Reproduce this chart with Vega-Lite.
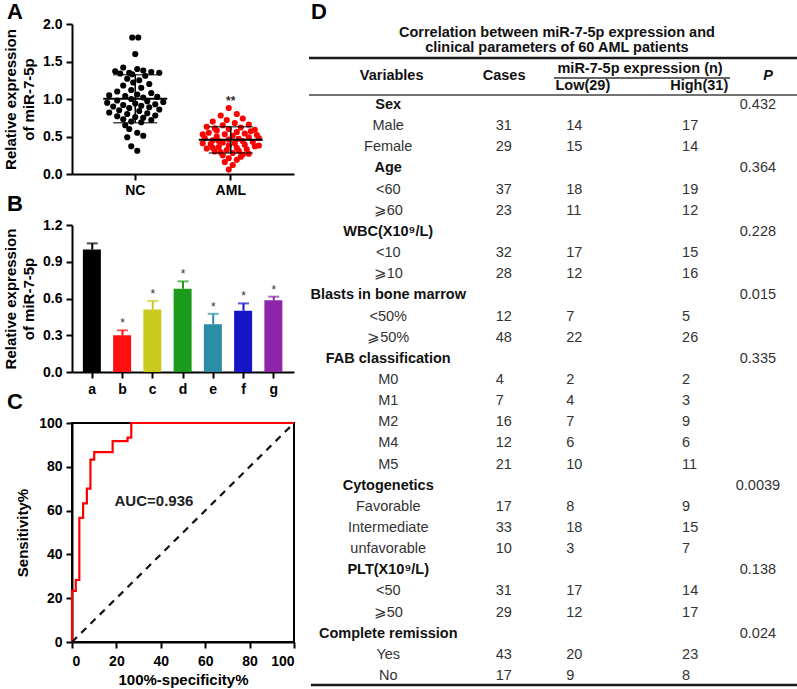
{
"$schema": "https://vega.github.io/schema/vega-lite/v6.json",
"padding": {"left": 3, "top": 0, "right": 0, "bottom": 0},
"datasets": {
"dots": [
{"group":"NC","value":1.82,"spread":-3},{"group":"NC","value":1.82,"spread":3},{"group":"NC","value":1.60,"spread":0},
{"group":"NC","value":1.42,"spread":-12},{"group":"NC","value":1.40,"spread":2},{"group":"NC","value":1.38,"spread":8},{"group":"NC","value":1.37,"spread":-20},{"group":"NC","value":1.36,"spread":16},{"group":"NC","value":1.35,"spread":-6},{"group":"NC","value":1.35,"spread":24},{"group":"NC","value":1.34,"spread":-15},{"group":"NC","value":1.33,"spread":-3},{"group":"NC","value":1.31,"spread":10},
{"group":"NC","value":1.27,"spread":-8},{"group":"NC","value":1.25,"spread":4},{"group":"NC","value":1.22,"spread":-2},{"group":"NC","value":1.20,"spread":14},{"group":"NC","value":1.18,"spread":-12},{"group":"NC","value":1.15,"spread":6},{"group":"NC","value":1.12,"spread":-4},
{"group":"NC","value":1.10,"spread":-18},{"group":"NC","value":1.08,"spread":16},{"group":"NC","value":1.06,"spread":2},{"group":"NC","value":1.05,"spread":-26},{"group":"NC","value":1.04,"spread":-10},{"group":"NC","value":1.03,"spread":22},{"group":"NC","value":1.02,"spread":8},{"group":"NC","value":1.00,"spread":-4},
{"group":"NC","value":0.98,"spread":-18},{"group":"NC","value":0.97,"spread":12},{"group":"NC","value":0.96,"spread":28},{"group":"NC","value":0.95,"spread":-28},{"group":"NC","value":0.94,"spread":0},{"group":"NC","value":0.93,"spread":20},{"group":"NC","value":0.92,"spread":-12},{"group":"NC","value":0.91,"spread":6},{"group":"NC","value":0.90,"spread":-22},{"group":"NC","value":0.89,"spread":14},{"group":"NC","value":0.88,"spread":-6},
{"group":"NC","value":0.86,"spread":24},{"group":"NC","value":0.85,"spread":-16},{"group":"NC","value":0.84,"spread":4},{"group":"NC","value":0.82,"spread":-26},{"group":"NC","value":0.81,"spread":12},{"group":"NC","value":0.80,"spread":-8},{"group":"NC","value":0.78,"spread":20},{"group":"NC","value":0.77,"spread":-18},{"group":"NC","value":0.76,"spread":0},{"group":"NC","value":0.75,"spread":8},{"group":"NC","value":0.73,"spread":-12},{"group":"NC","value":0.72,"spread":16},{"group":"NC","value":0.70,"spread":-4},{"group":"NC","value":0.69,"spread":6},
{"group":"NC","value":0.65,"spread":-10},{"group":"NC","value":0.60,"spread":-6},{"group":"NC","value":0.55,"spread":2},{"group":"NC","value":0.51,"spread":8},{"group":"NC","value":0.49,"spread":-8},{"group":"NC","value":0.37,"spread":-4},{"group":"NC","value":0.31,"spread":2},
{"group":"AML","value":0.88,"spread":-2},{"group":"AML","value":0.80,"spread":6},{"group":"AML","value":0.78,"spread":-10},{"group":"AML","value":0.74,"spread":12},{"group":"AML","value":0.72,"spread":-4},{"group":"AML","value":0.70,"spread":-18},{"group":"AML","value":0.68,"spread":4},{"group":"AML","value":0.66,"spread":18},{"group":"AML","value":0.65,"spread":-8},{"group":"AML","value":0.63,"spread":-24},
{"group":"AML","value":0.62,"spread":10},{"group":"AML","value":0.61,"spread":-16},{"group":"AML","value":0.60,"spread":-2},{"group":"AML","value":0.59,"spread":24},{"group":"AML","value":0.58,"spread":-14},{"group":"AML","value":0.57,"spread":20},{"group":"AML","value":0.56,"spread":6},{"group":"AML","value":0.55,"spread":-22},{"group":"AML","value":0.54,"spread":14},{"group":"AML","value":0.53,"spread":-6},
{"group":"AML","value":0.53,"spread":-28},{"group":"AML","value":0.52,"spread":26},{"group":"AML","value":0.51,"spread":2},{"group":"AML","value":0.50,"spread":-14},{"group":"AML","value":0.49,"spread":18},{"group":"AML","value":0.48,"spread":-26},{"group":"AML","value":0.48,"spread":28},{"group":"AML","value":0.47,"spread":8},{"group":"AML","value":0.46,"spread":-2},{"group":"AML","value":0.45,"spread":-18},
{"group":"AML","value":0.44,"spread":12},{"group":"AML","value":0.44,"spread":-12},{"group":"AML","value":0.43,"spread":22},{"group":"AML","value":0.42,"spread":-8},{"group":"AML","value":0.41,"spread":4},{"group":"AML","value":0.41,"spread":-28},{"group":"AML","value":0.40,"spread":-20},{"group":"AML","value":0.39,"spread":14},{"group":"AML","value":0.38,"spread":-2},{"group":"AML","value":0.38,"spread":28},
{"group":"AML","value":0.37,"spread":24},{"group":"AML","value":0.36,"spread":-12},{"group":"AML","value":0.35,"spread":6},{"group":"AML","value":0.35,"spread":-18},{"group":"AML","value":0.34,"spread":-24},{"group":"AML","value":0.33,"spread":16},{"group":"AML","value":0.32,"spread":-4},{"group":"AML","value":0.31,"spread":8},{"group":"AML","value":0.30,"spread":-16},{"group":"AML","value":0.29,"spread":-10},
{"group":"AML","value":0.28,"spread":2},{"group":"AML","value":0.27,"spread":18},{"group":"AML","value":0.26,"spread":12},{"group":"AML","value":0.25,"spread":-8},{"group":"AML","value":0.23,"spread":10},{"group":"AML","value":0.21,"spread":-2},{"group":"AML","value":0.19,"spread":6},{"group":"AML","value":0.16,"spread":-6},{"group":"AML","value":0.12,"spread":2},{"group":"AML","value":0.06,"spread":-2}
],
"bars": [
{"grp":"a","mean":1.0,"upper":1.05,"sig":""},
{"grp":"b","mean":0.30,"upper":0.34,"sig":"*"},
{"grp":"c","mean":0.51,"upper":0.58,"sig":"*"},
{"grp":"d","mean":0.68,"upper":0.74,"sig":"*"},
{"grp":"e","mean":0.39,"upper":0.475,"sig":"*"},
{"grp":"f","mean":0.50,"upper":0.56,"sig":"*"},
{"grp":"g","mean":0.585,"upper":0.615,"sig":"*"}
],
"roc": [
{"fpr":0,"tpr":0},{"fpr":0,"tpr":23.3},{"fpr":1.7,"tpr":28.3},{"fpr":3.3,"tpr":56.7},{"fpr":5,"tpr":63.3},{"fpr":6.7,"tpr":70},{"fpr":8.3,"tpr":83.3},{"fpr":10,"tpr":86.7},{"fpr":18.3,"tpr":91.7},{"fpr":25,"tpr":93.3},{"fpr":26.7,"tpr":100},{"fpr":100,"tpr":100}
],
"tbl": [
{"var":"Sex","kind":"g","p":"0.432"},
{"var":"Male","kind":"i","cases":31,"low":14,"high":17},
{"var":"Female","kind":"i","cases":29,"low":15,"high":14},
{"var":"Age","kind":"g","p":"0.364"},
{"var":"<60","kind":"i","cases":37,"low":18,"high":19},
{"var":"⩾60","kind":"i","cases":23,"low":11,"high":12},
{"var":"WBC(X10⁹/L)","kind":"g","p":"0.228"},
{"var":"<10","kind":"i","cases":32,"low":17,"high":15},
{"var":"⩾10","kind":"i","cases":28,"low":12,"high":16},
{"var":"Blasts in bone marrow","kind":"g","p":"0.015"},
{"var":"<50%","kind":"i","cases":12,"low":7,"high":5},
{"var":"⩾50%","kind":"i","cases":48,"low":22,"high":26},
{"var":"FAB classification","kind":"g","p":"0.335"},
{"var":"M0","kind":"i","cases":4,"low":2,"high":2},
{"var":"M1","kind":"i","cases":7,"low":4,"high":3},
{"var":"M2","kind":"i","cases":16,"low":7,"high":9},
{"var":"M4","kind":"i","cases":12,"low":6,"high":6},
{"var":"M5","kind":"i","cases":21,"low":10,"high":11},
{"var":"Cytogenetics","kind":"g","p":"0.0039"},
{"var":"Favorable","kind":"i","cases":17,"low":8,"high":9},
{"var":"Intermediate","kind":"i","cases":33,"low":18,"high":15},
{"var":"unfavorable","kind":"i","cases":10,"low":3,"high":7},
{"var":"PLT(X10⁹/L)","kind":"g","p":"0.138"},
{"var":"<50","kind":"i","cases":31,"low":17,"high":14},
{"var":"⩾50","kind":"i","cases":29,"low":12,"high":17},
{"var":"Complete remission","kind":"g","p":"0.024"},
{"var":"Yes","kind":"i","cases":43,"low":20,"high":23},
{"var":"No","kind":"i","cases":17,"low":9,"high":8}
]
},
"concat": [
{
"vconcat": [
{
"width": 222, "height": 150,
"title": {"text": "A", "offset": -7},
"data": {"name": "dots"},
"layer": [
{"mark": {"type": "circle", "size": 38, "opacity": 1},
 "encoding": {
  "x": {"field": "group", "type": "nominal", "sort": ["NC","AML"], "scale": {"paddingInner": 0.35, "paddingOuter": 0.337}, "title": null, "axis": {"labelAngle": 0, "labelPadding": 3}},
  "xOffset": {"field": "spread", "type": "quantitative", "scale": {"domain": [-31, 31], "nice": false, "zero": false}},
  "y": {"field": "value", "type": "quantitative", "scale": {"domain": [0, 2], "nice": false}, "title": ["Relative expression", "of miR-7-5p"], "axis": {"values": [0,0.5,1,1.5,2], "format": ".1f", "titlePadding": 6, "titleLineHeight": 18, "labelOverlap": false}},
  "color": {"field": "group", "type": "nominal", "scale": {"domain": ["NC","AML"], "range": ["#000000","#ff0000"]}, "legend": null}
 }},
{"mark": {"type": "errorbar", "extent": "stdev", "ticks": true, "size": 44, "thickness": 1.5, "color": "#000000"},
 "encoding": {
  "x": {"field": "group", "type": "nominal", "sort": ["NC","AML"], "title": null},
  "y": {"field": "value", "type": "quantitative", "title": ["Relative expression", "of miR-7-5p"], "axis": {"values": [0,0.5,1,1.5,2], "format": ".1f", "titlePadding": 6, "titleLineHeight": 18, "labelOverlap": false}}
 }},
{"mark": {"type": "tick", "size": 64, "thickness": 2, "color": "#000000"},
 "encoding": {
  "x": {"field": "group", "type": "nominal", "sort": ["NC","AML"], "title": null},
  "y": {"aggregate": "mean", "field": "value", "type": "quantitative", "title": ["Relative expression", "of miR-7-5p"], "axis": {"values": [0,0.5,1,1.5,2], "format": ".1f", "titlePadding": 6, "titleLineHeight": 18, "labelOverlap": false}}
 }},
{"data": {"values": [{"t": "**"}]},
 "mark": {"type": "text", "fontSize": 12, "fontWeight": "bold", "color": "#333333"},
 "encoding": {"x": {"datum": "AML", "title": null}, "y": {"datum": 0.97, "title": ["Relative expression", "of miR-7-5p"], "axis": {"values": [0,0.5,1,1.5,2], "format": ".1f", "titlePadding": 6, "titleLineHeight": 18, "labelOverlap": false}}, "text": {"field": "t"}}}
]
},
{
"width": 222, "height": 147,
"title": {"text": "B", "offset": 2},
"data": {"name": "bars"},
"encoding": {"x": {"field": "grp", "type": "nominal", "scale": {"paddingInner": 0.38, "paddingOuter": 0.36}, "title": null, "axis": {"labelAngle": 0, "labelPadding": 4}}},
"layer": [
{"mark": {"type": "bar"},
 "encoding": {
  "y": {"field": "mean", "type": "quantitative", "scale": {"domain": [0, 1.2], "nice": false}, "title": ["Relative expression", "of miR-7-5p"], "axis": {"values": [0,0.3,0.6,0.9,1.2], "format": ".1f", "titlePadding": 6, "titleLineHeight": 18, "labelOverlap": false}},
  "color": {"field": "grp", "type": "nominal", "scale": {"domain": ["a","b","c","d","e","f","g"], "range": ["#000000","#ff1010","#c9c91e","#1b9a1b","#2a8fa6","#1515c8","#8e24a8"]}, "legend": null}
 }},
{"mark": {"type": "rule", "strokeWidth": 2},
 "encoding": {
  "y": {"field": "mean", "type": "quantitative", "title": ["Relative expression", "of miR-7-5p"], "axis": {"values": [0,0.3,0.6,0.9,1.2], "format": ".1f", "titlePadding": 6, "titleLineHeight": 18, "labelOverlap": false}},
  "y2": {"field": "upper"},
  "color": {"field": "grp", "type": "nominal", "legend": null}
 }},
{"mark": {"type": "tick", "size": 11, "thickness": 2},
 "encoding": {
  "y": {"field": "upper", "type": "quantitative", "title": ["Relative expression", "of miR-7-5p"], "axis": {"values": [0,0.3,0.6,0.9,1.2], "format": ".1f", "titlePadding": 6, "titleLineHeight": 18, "labelOverlap": false}},
  "color": {"field": "grp", "type": "nominal", "legend": null}
 }},
{"mark": {"type": "text", "fontSize": 12, "color": "#333333", "dy": -7},
 "encoding": {
  "y": {"field": "upper", "type": "quantitative", "title": ["Relative expression", "of miR-7-5p"], "axis": {"values": [0,0.3,0.6,0.9,1.2], "format": ".1f", "titlePadding": 6, "titleLineHeight": 18, "labelOverlap": false}},
  "text": {"field": "sig"}
 }}
]
},
{
"width": 222, "height": 219,
"title": {"text": "C", "offset": 2},
"view": {"stroke": "#000000", "strokeWidth": 2},
"layer": [
{"data": {"name": "roc"},
 "mark": {"type": "line", "interpolate": "step-after", "color": "#ff0000", "strokeWidth": 2.2},
 "encoding": {
  "x": {"field": "fpr", "type": "quantitative", "scale": {"domain": [0, 100], "nice": false}, "title": "100%-specificity%", "axis": {"values": [0,20,40,60,80,100], "labelPadding": 6, "titlePadding": 4}},
  "y": {"field": "tpr", "type": "quantitative", "scale": {"domain": [0, 100], "nice": false}, "title": "Sensitivity%", "axis": {"values": [0,20,40,60,80,100], "titlePadding": 8}}
 }},
{"data": {"values": [{}]},
 "mark": {"type": "rule", "strokeDash": [7, 6], "strokeWidth": 2.2, "color": "#111111"},
 "encoding": {"x": {"datum": 0}, "y": {"datum": 0}, "x2": {"datum": 100}, "y2": {"datum": 100}}},
{"data": {"values": [{"t": "AUC=0.936"}]},
 "mark": {"type": "text", "fontSize": 15, "fontWeight": "bold", "color": "#222222"},
 "encoding": {"x": {"datum": 36.9}, "y": {"datum": 64.4}, "text": {"field": "t"}}}
]
}
],
"spacing": 51,
"bounds": "flush",
"resolve": {"scale": {"color": "independent"}}
},
{
"width": 489, "height": 665,
"layer": [
{"data": {"values": [{"t": "D"}]},
 "mark": {"type": "text", "fontSize": 22, "fontWeight": "bold", "align": "left", "baseline": "alphabetic", "color": "#000000"},
 "encoding": {"x": {"datum": 0.4, "type": "quantitative", "scale": {"domain": [0, 100], "nice": false, "zero": false}, "axis": null}, "y": {"datum": -3.07, "type": "quantitative", "scale": {"domain": [-2.83, 28.612], "nice": false, "zero": false, "reverse": true}, "axis": null}, "text": {"field": "t"}}},
{"data": {"values": [{"t": "Correlation between miR-7-5p expression and"}]},
 "mark": {"type": "text", "fontSize": 14.5, "fontWeight": "bold", "align": "center", "baseline": "middle", "color": "#111111"},
 "encoding": {"x": {"datum": 50.7, "type": "quantitative", "axis": null}, "y": {"datum": -2.404, "type": "quantitative", "axis": null}, "text": {"field": "t"}}},
{"data": {"values": [{"t": "clinical parameters of 60 AML patients"}]},
 "mark": {"type": "text", "fontSize": 14.5, "fontWeight": "bold", "align": "center", "baseline": "middle", "color": "#111111"},
 "encoding": {"x": {"datum": 50.7, "type": "quantitative", "axis": null}, "y": {"datum": -1.695, "type": "quantitative", "axis": null}, "text": {"field": "t"}}},
{"data": {"values": [{}]},
 "mark": {"type": "rule", "strokeWidth": 2.5, "color": "#1a1a1a"},
 "encoding": {"x": {"datum": 0, "type": "quantitative", "axis": null}, "x2": {"datum": 100}, "y": {"datum": -1.222, "type": "quantitative", "axis": null}}},
{"data": {"values": [{"t": "miR-7-5p expression (n)"}]},
 "mark": {"type": "text", "fontSize": 14.5, "fontWeight": "bold", "align": "center", "baseline": "middle", "color": "#111111"},
 "encoding": {"x": {"datum": 67.7, "type": "quantitative", "axis": null}, "y": {"datum": -0.702, "type": "quantitative", "axis": null}, "text": {"field": "t"}}},
{"data": {"values": [{}]},
 "mark": {"type": "rule", "strokeWidth": 1.3, "color": "#333333"},
 "encoding": {"x": {"datum": 50.1, "type": "quantitative", "axis": null}, "x2": {"datum": 86.1}, "y": {"datum": -0.277, "type": "quantitative", "axis": null}}},
{"data": {"values": [{"t": "Variables"}]},
 "mark": {"type": "text", "fontSize": 14.5, "fontWeight": "bold", "align": "center", "baseline": "middle", "color": "#111111"},
 "encoding": {"x": {"datum": 16.9, "type": "quantitative", "axis": null}, "y": {"datum": -0.371, "type": "quantitative", "axis": null}, "text": {"field": "t"}}},
{"data": {"values": [{"t": "Cases"}]},
 "mark": {"type": "text", "fontSize": 14.5, "fontWeight": "bold", "align": "center", "baseline": "middle", "color": "#111111"},
 "encoding": {"x": {"datum": 39.9, "type": "quantitative", "axis": null}, "y": {"datum": -0.371, "type": "quantitative", "axis": null}, "text": {"field": "t"}}},
{"data": {"values": [{"t": "P"}]},
 "mark": {"type": "text", "fontSize": 14.5, "fontWeight": "bold", "fontStyle": "italic", "align": "center", "baseline": "middle", "color": "#111111"},
 "encoding": {"x": {"datum": 93.9, "type": "quantitative", "axis": null}, "y": {"datum": -0.371, "type": "quantitative", "axis": null}, "text": {"field": "t"}}},
{"data": {"values": [{"t": "Low(29)"}]},
 "mark": {"type": "text", "fontSize": 14.5, "fontWeight": "bold", "align": "center", "baseline": "middle", "color": "#111111"},
 "encoding": {"x": {"datum": 56.0, "type": "quantitative", "axis": null}, "y": {"datum": 0.102, "type": "quantitative", "axis": null}, "text": {"field": "t"}}},
{"data": {"values": [{"t": "High(31)"}]},
 "mark": {"type": "text", "fontSize": 14.5, "fontWeight": "bold", "align": "center", "baseline": "middle", "color": "#111111"},
 "encoding": {"x": {"datum": 79.8, "type": "quantitative", "axis": null}, "y": {"datum": 0.102, "type": "quantitative", "axis": null}, "text": {"field": "t"}}},
{"data": {"values": [{}]},
 "mark": {"type": "rule", "strokeWidth": 1.6, "color": "#444444"},
 "encoding": {"x": {"datum": 0, "type": "quantitative", "axis": null}, "x2": {"datum": 100}, "y": {"datum": 0.527, "type": "quantitative", "axis": null}}},
{"data": {"name": "tbl"},
 "transform": [{"window": [{"op": "row_number", "as": "r"}]}, {"filter": {"field": "kind", "equal": "g"}}],
 "mark": {"type": "text", "fontSize": 14.5, "fontWeight": "bold", "align": "center", "baseline": "middle", "color": "#111111"},
 "encoding": {"x": {"datum": 16.2, "type": "quantitative", "axis": null}, "y": {"field": "r", "type": "quantitative", "axis": null}, "text": {"field": "var"}}},
{"data": {"name": "tbl"},
 "transform": [{"window": [{"op": "row_number", "as": "r"}]}, {"filter": {"field": "kind", "equal": "i"}}],
 "mark": {"type": "text", "fontSize": 14.5, "align": "center", "baseline": "middle", "color": "#333333"},
 "encoding": {"x": {"datum": 16.2, "type": "quantitative", "axis": null}, "y": {"field": "r", "type": "quantitative", "axis": null}, "text": {"field": "var"}}},
{"data": {"name": "tbl"},
 "transform": [{"window": [{"op": "row_number", "as": "r"}]}, {"filter": {"field": "kind", "equal": "i"}}],
 "mark": {"type": "text", "fontSize": 14.5, "align": "left", "baseline": "middle", "color": "#333333"},
 "encoding": {"x": {"datum": 38.2, "type": "quantitative", "axis": null}, "y": {"field": "r", "type": "quantitative", "axis": null}, "text": {"field": "cases", "type": "nominal"}}},
{"data": {"name": "tbl"},
 "transform": [{"window": [{"op": "row_number", "as": "r"}]}, {"filter": {"field": "kind", "equal": "i"}}],
 "mark": {"type": "text", "fontSize": 14.5, "align": "left", "baseline": "middle", "color": "#333333"},
 "encoding": {"x": {"datum": 52.6, "type": "quantitative", "axis": null}, "y": {"field": "r", "type": "quantitative", "axis": null}, "text": {"field": "low", "type": "nominal"}}},
{"data": {"name": "tbl"},
 "transform": [{"window": [{"op": "row_number", "as": "r"}]}, {"filter": {"field": "kind", "equal": "i"}}],
 "mark": {"type": "text", "fontSize": 14.5, "align": "left", "baseline": "middle", "color": "#333333"},
 "encoding": {"x": {"datum": 76.3, "type": "quantitative", "axis": null}, "y": {"field": "r", "type": "quantitative", "axis": null}, "text": {"field": "high", "type": "nominal"}}},
{"data": {"name": "tbl"},
 "transform": [{"window": [{"op": "row_number", "as": "r"}]}, {"filter": {"field": "kind", "equal": "g"}}],
 "mark": {"type": "text", "fontSize": 14.5, "align": "center", "baseline": "middle", "color": "#333333"},
 "encoding": {"x": {"datum": 91.8, "type": "quantitative", "axis": null}, "y": {"field": "r", "type": "quantitative", "axis": null}, "text": {"field": "p", "type": "nominal"}}},
{"data": {"values": [{}]},
 "mark": {"type": "rule", "strokeWidth": 2.5, "color": "#1a1a1a"},
 "encoding": {"x": {"datum": 0.4, "type": "quantitative", "axis": null}, "x2": {"datum": 100}, "y": {"datum": 28.42, "type": "quantitative", "axis": null}}}
]
}
],
"align": "none",
"bounds": "full",
"spacing": 7,
"config": {
 "font": "Liberation Sans",
 "view": {"stroke": null},
 "axis": {"domainColor": "#000000", "domainWidth": 2, "tickColor": "#000000", "tickWidth": 2, "tickSize": 6, "labelFont": "Liberation Sans", "labelFontSize": 14, "labelFontWeight": "bold", "labelColor": "#000000", "labelPadding": 4, "labelOverlap": false, "titleFont": "Liberation Sans", "titleFontSize": 15, "titleFontWeight": "bold", "titleColor": "#000000", "grid": false},
 "title": {"font": "Liberation Sans", "fontSize": 22, "fontWeight": "bold", "color": "#000000", "anchor": "start", "frame": "group", "dx": -65}
}
}
